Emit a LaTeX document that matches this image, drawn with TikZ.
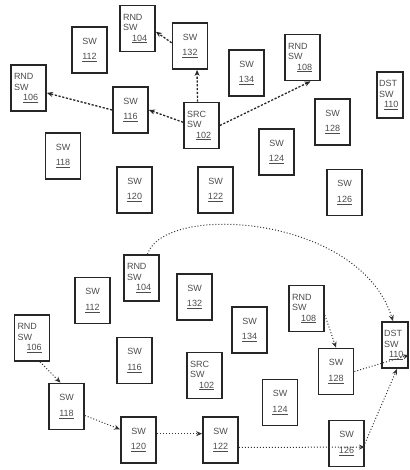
\documentclass[tikz,border=0pt]{standalone}
\usepackage{fontspec}
\setmainfont{Liberation Sans}
\usepackage{tikz}
\usetikzlibrary{arrows.meta, positioning, calc}

\begin{document}
\begin{tikzpicture}[x=1pt, y=-1pt,
	sw/.style={draw=black!85, line width=1.8pt, rectangle, minimum width=35pt, minimum height=46pt,
		inner sep=1pt, align=center, text=black!70, font=\fontsize{9}{10.5}\selectfont},
	tagged/.style={sw, align=left, text width=29pt},
	dst/.style={tagged, minimum width=26pt, text width=22pt},
	hop/.style={line width=1.3pt, dash pattern=on 2.2pt off 1.6pt, draw=black!85, -{Stealth[length=6pt,width=5pt]}},
	route/.style={line width=1pt, dotted, draw=black!80, -{Stealth[length=6pt,width=5pt]}}]
	\useasboundingbox (0,0) rectangle (409,470);

	% upper picture
	\node[tagged] (r104a) at (137.5,28.5) {RND\\SW\\\hspace*{9pt}\underline{104}};
	\node[sw] (s132a) at (190,46) {SW\\[5pt]\underline{132}};
	\node[sw] (s112a) at (89.5,50) {SW\\[5pt]\underline{112}};
	\node[tagged] (r106a) at (28.5,88) {RND\\SW\\\hspace*{9pt}\underline{106}};
	\node[sw] (s116a) at (130.5,110) {SW\\[5pt]\underline{116}};
	\node[tagged] (src102a) at (201.5,125.5) {SRC\\SW\\\hspace*{9pt}\underline{102}};
	\node[sw] (s118a) at (63,156) {SW\\[5pt]\underline{118}};
	\node[sw] (s120a) at (134.5,190) {SW\\[5pt]\underline{120}};
	\node[sw] (s122a) at (215.5,190) {SW\\[5pt]\underline{122}};
	\node[sw] (s134a) at (246.5,73) {SW\\[5pt]\underline{134}};
	\node[tagged] (r108a) at (302.5,57.5) {RND\\SW\\\hspace*{9pt}\underline{108}};
	\node[dst] (d110a) at (390,95) {DST\\SW\\\hspace*{5pt}\underline{110}};
	\node[sw] (s128a) at (332.5,122) {SW\\[5pt]\underline{128}};
	\node[sw] (s124a) at (276.5,152) {SW\\[5pt]\underline{124}};
	\node[sw] (s126a) at (344.5,192.5) {SW\\[5pt]\underline{126}};

	\draw[hop] ([xshift=-4pt]src102a.north) -- ([xshift=7pt]s132a.south);
	\draw[hop] (s132a.170) -- (r104a.-10);
	\draw[hop] (src102a.170) -- (s116a.east);
	\draw[hop] (s116a.west) -- (r106a.-15);
	\draw[hop] (src102a.east) -- ([xshift=8pt]r108a.south);

	% lower picture
	\node[tagged] (r104b) at (141.5,278) {RND\\SW\\\hspace*{9pt}\underline{104}};
	\node[sw] (s132b) at (194.5,297) {SW\\[5pt]\underline{132}};
	\node[sw] (s112b) at (92.5,300.5) {SW\\[5pt]\underline{112}};
	\node[tagged] (r106b) at (32,338) {RND\\SW\\\hspace*{9pt}\underline{106}};
	\node[sw] (s116b) at (134.5,360.5) {SW\\[5pt]\underline{116}};
	\node[tagged] (src102b) at (204.5,375.5) {SRC\\SW\\\hspace*{9pt}\underline{102}};
	\node[sw] (s118b) at (66.5,406.5) {SW\\[5pt]\underline{118}};
	\node[sw] (s120b) at (138.5,440) {SW\\[5pt]\underline{120}};
	\node[sw] (s122b) at (220.5,440) {SW\\[5pt]\underline{122}};
	\node[sw] (s134b) at (249.5,330) {SW\\[5pt]\underline{134}};
	\node[tagged] (r108b) at (306.5,308.5) {RND\\SW\\\hspace*{9pt}\underline{108}};
	\node[sw] (s128b) at (336,371.5) {SW\\[5pt]\underline{128}};
	\node[sw] (s124b) at (280,402.5) {SW\\[5pt]\underline{124}};
	\node[sw] (s126b) at (346.5,443.5) {SW\\[5pt]\underline{126}};
	\node[dst] (d110b) at (395,345) {DST\\SW\\\hspace*{5pt}\underline{110}};

	\draw[route] ([xshift=8pt]r106b.south) -- ([xshift=-6pt]s118b.north);
	\draw[route] (s118b.-26) -- (s120b.150);
	\draw[route] (s120b.19) -- (s122b.161);
	\draw[route] (s122b.-22) -- (s126b.-11);
	\draw[route] (s126b.east) -- ([xshift=2pt]d110b.south);
	\draw[route] (r108b.-20) -- (s128b.north);
	\draw[route] (s128b.east) -- (d110b.-36);
	\draw[route] ([xshift=6pt]r104b.north) .. controls (165,202) and (360,215) .. ([xshift=-2pt]d110b.north);
\end{tikzpicture}
\end{document}
